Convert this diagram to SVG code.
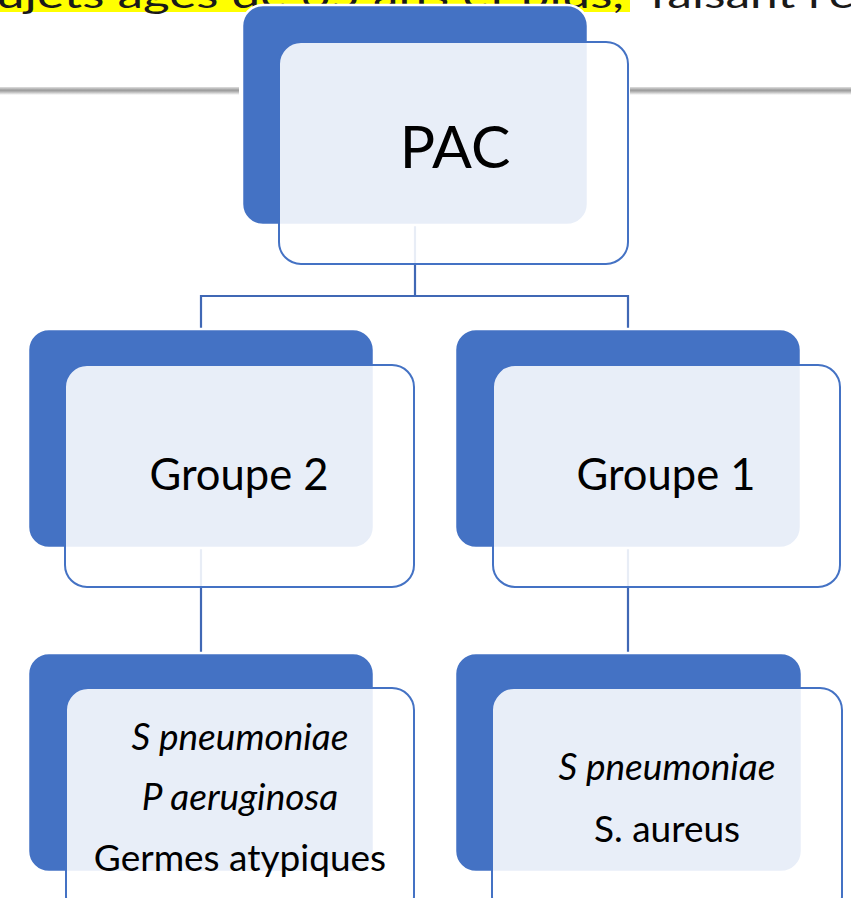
<svg xmlns="http://www.w3.org/2000/svg" width="851" height="898" viewBox="0 0 851 898">
  <defs>
    <style>
      .dark { fill: #4472C4; stroke: #FFFFFF; stroke-width: 2.5; }
      .front { fill: #FFFFFF; fill-opacity: 0.88; stroke: #4472C4; stroke-width: 2; }
      .conn { fill: none; stroke: #4068B5; stroke-width: 2.2; }
      .lbl { font-family: Lato, "Open Sans", "Liberation Sans", sans-serif; fill: #000000; text-anchor: middle; }
      .it { font-style: italic; }
      .top { font-family: Lato, "Liberation Sans", sans-serif; font-size: 36px; fill: #1A1A1A; }
    </style>
    <linearGradient id="shadow" x1="0" y1="0" x2="0" y2="1">
      <stop offset="0" stop-color="#E0E0E0"/>
      <stop offset="0.4" stop-color="#9A9A9A"/>
      <stop offset="0.6" stop-color="#B5B5B5"/>
      <stop offset="1" stop-color="#FFFFFF"/>
    </linearGradient>
  </defs>

  <rect x="0" y="0" width="851" height="898" fill="#FFFFFF"/>

  <g id="page-background">
    <rect x="0" y="0" width="630" height="12" fill="#FFFF00"/>
    <text class="top" x="-4" y="8" textLength="628" lengthAdjust="spacingAndGlyphs">ujets âgés de 65 ans et plus,</text>
    <text class="top" x="650" y="8" textLength="205" lengthAdjust="spacingAndGlyphs">faisant l’é</text>
    <rect x="0" y="87" width="239" height="8" fill="url(#shadow)"/>
    <rect x="630" y="87" width="221" height="8" fill="url(#shadow)"/>
  </g>

  <g id="connectors">
    <path class="conn" d="M415 225 V296 M201 296 H628 M201 295 V329 M628 295 V329 M201 548 V652 M628 548 V652"/>
  </g>

  <g id="node-pac">
    <rect class="dark" x="242" y="5" width="346" height="220" rx="21"/>
    <rect class="front" x="279" y="42" width="349" height="222" rx="22"/>
    <text class="lbl" x="455" y="168" font-size="59">PAC</text>
  </g>

  <g id="node-groupe2">
    <rect class="dark" x="28" y="329" width="346" height="219" rx="21"/>
    <rect class="front" x="65" y="365" width="349" height="222" rx="22"/>
    <text class="lbl" x="239" y="490" font-size="43.5">Groupe 2</text>
  </g>

  <g id="node-groupe1">
    <rect class="dark" x="455" y="329" width="346" height="219" rx="21"/>
    <rect class="front" x="493" y="365" width="347" height="222" rx="22"/>
    <text class="lbl" x="666" y="490" font-size="43.5">Groupe 1</text>
  </g>

  <g id="node-germes-groupe2">
    <rect class="dark" x="28" y="653" width="346" height="219" rx="21"/>
    <rect class="front" x="66" y="688" width="348" height="230" rx="22"/>
    <text class="lbl it" x="240" y="750" font-size="37">S pneumoniae</text>
    <text class="lbl it" x="240" y="810" font-size="37">P aeruginosa</text>
    <text class="lbl" x="240" y="871" font-size="37">Germes atypiques</text>
  </g>

  <g id="node-germes-groupe1">
    <rect class="dark" x="455" y="653" width="347" height="219" rx="21"/>
    <rect class="front" x="492" y="688" width="350" height="230" rx="22"/>
    <text class="lbl it" x="667" y="780" font-size="37">S pneumoniae</text>
    <text class="lbl" x="667" y="842" font-size="37">S. aureus</text>
  </g>
</svg>
